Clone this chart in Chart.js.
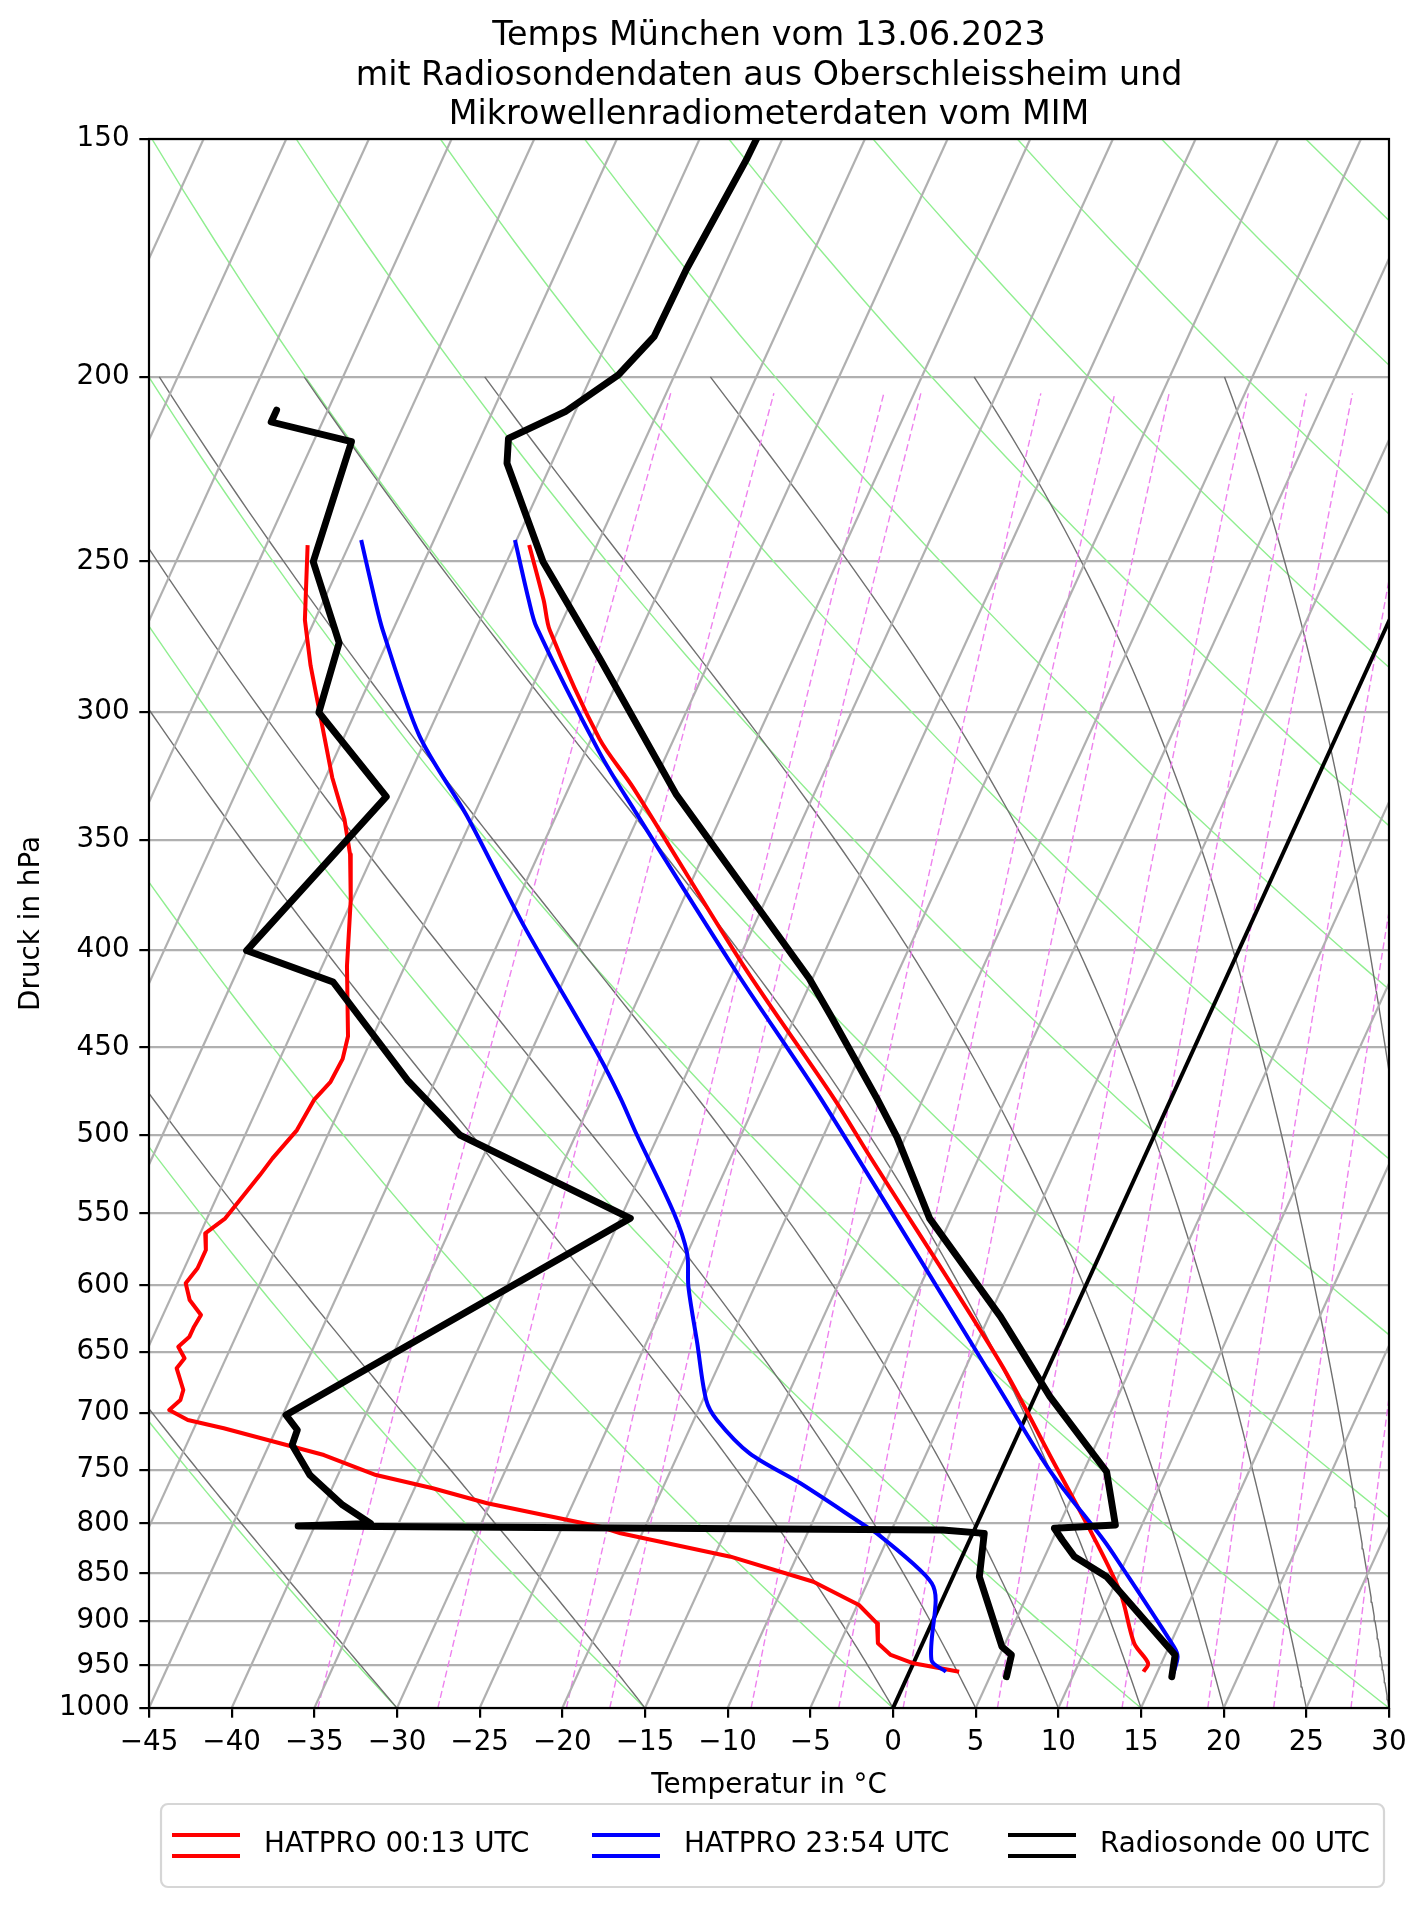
<!DOCTYPE html>
<html lang="de">
<head>
<meta charset="utf-8">
<title>Temps München vom 13.06.2023</title>
<script src="https://cdn.jsdelivr.net/npm/chart.js@4.4.1/dist/chart.umd.min.js"></script>
<style>
  html, body { margin: 0; padding: 0; background: #fff; }
  canvas { display: block; }
</style>
</head>
<body>
<canvas id="skewT" width="1427" height="1907"></canvas>
<script>
// Axis ticks
const pressureTicks = [150, 200, 250, 300, 350, 400, 450, 500, 550, 600, 650, 700, 750, 800, 850, 900, 950, 1000];
const tempTicks = [-45, -40, -35, -30, -25, -20, -15, -10, -5, 0, 5, 10, 15, 20, 25, 30];

// Radiosonde 00 UTC (hPa / °C)
const sondeP = [145, 153.9, 175.7, 190.5, 199.5, 208.6, 215.4, 222.0, 250.1, 281.1, 331.5, 413.9, 432.7, 478.5, 501.6, 553.2, 623.0, 686.3, 751.5, 801.5, 804.7, 816.2, 832.8, 853.2, 937.9, 962.9];
const sondeT = [-51.5, -51.6, -52.2, -52.3, -53.4, -55.6, -58.3, -57.7, -52.8, -46.7, -38.3, -25.2, -22.9, -17.8, -15.5, -11.3, -4.3, 0.9, 6.4, 8.4, 4.8, 5.6, 6.8, 9.3, 15.6, 16.0];
const sondeDewP = [208.2, 211.2, 216.3, 250.1, 275.8, 300.1, 332.2, 400.2, 415.7, 468.0, 500.2, 553.2, 701.7, 714.5, 727.6, 754.5, 782.3, 799.9, 802.5, 806.4, 809.6, 853.2, 928.6, 937.9, 962.9];
const sondeTd = [-73.1, -73.1, -67.7, -66.7, -62.9, -62.2, -55.8, -60.0, -53.9, -46.7, -42.0, -29.4, -44.8, -43.7, -43.6, -41.7, -38.9, -36.7, -41.0, -1.9, 0.7, 1.6, 4.9, 5.7, 6.0];

// HATPRO 00:13 UTC
const hatproEarlyP = [245.1, 262.0, 271.7, 309.8, 328.7, 407.8, 478.5, 513.5, 659.2, 738.0, 811.3, 870.5, 924.7, 947.4, 957.1];
const hatproEarlyT = [-54.1, -51.7, -50.5, -44.5, -41.1, -29.5, -20.4, -16.6, -3.0, 2.6, 7.3, 10.6, 12.8, 14.2, 14.15];
const hatproEarlyDewP = [245.1, 262.0, 268.3, 283.5, 324.6, 341.5, 356.2, 376.4, 407.8, 443.9, 456.2, 469.0, 479.4, 497.2, 514.5, 525.0, 553.2, 563.3, 574.8, 587.6, 598.4, 610.6, 621.8, 630.6, 638.3, 646.1, 655.2, 663.2, 680.8, 689.1, 697.5, 705.9, 713.0, 736.5, 754.5, 766.7, 780.7, 803.2, 809.6, 832.8, 858.4, 882.9, 902.7, 924.7, 937.9, 947.4, 957.1];
const hatproEarlyTd = [-67.5, -66.1, -65.6, -64.0, -59.6, -57.7, -56.4, -55.1, -53.5, -51.5, -51.2, -51.3, -51.8, -52.0, -52.7, -53.0, -53.9, -54.7, -54.2, -54.2, -54.5, -53.8, -52.7, -52.8, -52.8, -53.2, -52.5, -52.7, -51.7, -51.6, -52.0, -50.6, -48.2, -41.4, -37.7, -33.9, -30.2, -22.7, -21.3, -14.0, -8.3, -4.9, -3.3, -2.7, -1.6, 0.0, 3.0];

// HATPRO 23:54 UTC
const hatproLateP = [243.6, 262.0, 270.6, 315.1, 337.2, 411.3, 478.5, 680.8, 750.0, 816.2, 837.9, 928.6, 939.9, 958.9];
const hatproLateT = [-55.1, -52.6, -51.4, -44.1, -40.5, -29.7, -21.2, -2.3, 2.9, 8.1, 9.6, 15.3, 15.8, 16.0];
const hatproLateDewP = [243.6, 262.0, 271.7, 308.5, 340.0, 387.7, 455.3, 478.5, 499.1, 549.8, 577.1, 600.9, 643.5, 689.1, 705.9, 735.0, 762.1, 803.2, 809.6, 839.5, 860.0, 877.6, 943.6, 957.1];
const hatproLateTd = [-64.4, -61.9, -60.6, -55.5, -50.4, -44.0, -35.7, -33.3, -31.4, -26.9, -25.0, -24.0, -21.9, -19.8, -18.6, -15.7, -11.8, -6.6, -5.8, -2.8, -1.1, -0.4, 1.0, 2.2];

// Reference lines of the diagram
const isothermTemps = [-85, -80, -75, -70, -65, -60, -55, -50, -45, -40, -35, -30, -25, -20, -15, -10, -5, 0, 5, 10, 15, 20, 25, 30];
const dryAdiabatTheta = [-45, -30, -15, 0, 15, 30, 45, 60, 75, 90, 105, 120, 135, 150, 165]; // °C at 1000 hPa
const moistAdiabatT0 = [-45, -30, -15, 0, 5, 10, 15, 20, 25, 30, 35];                         // °C at 1000 hPa
const mixingRatios = [0.2, 0.4, 0.8, 1, 2, 3, 4, 6, 8, 10, 14, 18, 24];                        // g/kg

const titleLines = ["Temps München vom 13.06.2023", "mit Radiosondendaten aus Oberschleissheim und", "Mikrowellenradiometerdaten vom MIM"];
const legendEntries = [
  { label: "HATPRO 00:13 UTC", color: "#ff0000" },
  { label: "HATPRO 23:54 UTC", color: "#0000ff" },
  { label: "Radiosonde 00 UTC", color: "#000000" }
];

const FONT = "'DejaVu Sans', sans-serif";
const RD = 287.04749, CP = 1004.6662, LV = 2.50084e6, EPS = 0.6219569, KAPPA = RD / CP;
const P_BOT = 1000, P_TOP = 150, T_MIN = -45, T_MAX = 30;
const SKEW = (T_MAX - T_MIN) * Math.tan(Math.PI / 6);
const LOG_SPAN = Math.log(P_BOT / P_TOP);

function skewX(t, p) {
  return t + SKEW * Math.log(P_BOT / p) / LOG_SPAN;
}

function profile(ps, ts) {
  return ps.map((p, i) => ({ x: skewX(ts[i], p), y: p }));
}

const curveLevels = [];
for (let p = 1000; p >= 150; p -= 10) curveLevels.push(p);

function isotherm(t) {
  return [{ x: skewX(t, P_BOT), y: P_BOT }, { x: skewX(t, P_TOP), y: P_TOP }];
}

function dryAdiabat(theta) {
  const th = theta + 273.15;
  return curveLevels.map(p => ({ x: skewX(th * Math.pow(p / 1000, KAPPA) - 273.15, p), y: p }));
}

function satMixingRatio(p, tK) {
  const es = 6.112 * Math.exp(17.67 * (tK - 273.15) / (tK - 29.65));
  return EPS * es / (p - es);
}

function moistRate(p, tK) {
  const rs = satMixingRatio(p, tK);
  return (RD * tK + LV * rs) / (CP + LV * LV * rs * EPS / (RD * tK * tK)) / p;
}

function moistAdiabat(t0) {
  const pts = [];
  const h = -5;
  let t = t0 + 273.15;
  for (let p = 1000; p >= 200; p += h) {
    pts.push({ x: skewX(t - 273.15, p), y: p });
    const k1 = moistRate(p, t);
    const k2 = moistRate(p + h / 2, t + h * k1 / 2);
    const k3 = moistRate(p + h / 2, t + h * k2 / 2);
    const k4 = moistRate(p + h, t + h * k3);
    t += h * (k1 + 2 * k2 + 2 * k3 + k4) / 6;
  }
  return pts;
}

const mixLevels = [];
for (let p = 1000; p > 205; p -= 10) mixLevels.push(p);
mixLevels.push(204);

function mixingLine(wGkg) {
  const w = wGkg / 1000;
  return mixLevels.map(p => {
    const l = Math.log((w * p / (EPS + w)) / 6.112);
    return { x: skewX(243.5 * l / (17.67 - l), p), y: p };
  });
}

function line(data, color, width, order, extra) {
  return Object.assign({
    data: data,
    showLine: true,
    borderColor: color,
    borderWidth: width,
    pointRadius: 0,
    pointHoverRadius: 0,
    fill: false,
    tension: 0,
    clip: 0,
    order: order,
    borderJoinStyle: "round"
  }, extra || {});
}

const datasets = [];
datasets.push(line(profile(sondeP, sondeT), "#000000", 6.9, 1, { borderCapStyle: "round" }));
datasets.push(line(profile(sondeDewP, sondeTd), "#000000", 6.9, 1, { borderCapStyle: "round" }));
datasets.push(line(profile(hatproLateP, hatproLateT), "#0000ff", 4.0, 2, { tension: 0.3 }));
datasets.push(line(profile(hatproLateDewP, hatproLateTd), "#0000ff", 4.0, 2, { tension: 0.3 }));
datasets.push(line(profile(hatproEarlyP, hatproEarlyT), "#ff0000", 4.0, 3, { tension: 0.3 }));
datasets.push(line(profile(hatproEarlyDewP, hatproEarlyTd), "#ff0000", 4.0, 3));
datasets.push(line(isotherm(0), "#000000", 4.0, 4));
isothermTemps.forEach(t => datasets.push(line(isotherm(t), "#b0b0b0", 2.2, 5)));
mixingRatios.forEach(w => datasets.push(line(mixingLine(w), "#ee82ee", 1.4, 6, { borderDash: [7, 3.5] })));
moistAdiabatT0.forEach(t => datasets.push(line(moistAdiabat(t), "#707070", 1.4, 7)));
dryAdiabatTheta.forEach(t => datasets.push(line(dryAdiabat(t), "#90ee90", 1.4, 8)));

// axes spines on top of the lines
const framePlugin = {
  id: "frame",
  afterDatasetsDraw(chart) {
    const { ctx, chartArea: a } = chart;
    ctx.save();
    ctx.strokeStyle = "#000";
    ctx.lineWidth = 2.2;
    ctx.strokeRect(a.left, a.top, a.right - a.left, a.bottom - a.top);
    ctx.restore();
  }
};

const legendBox = { left: 161, top: 1804, width: 1223, height: 83, midY: 1845.5, handleX: [172, 592, 1008], handleLen: 68, textOffset: 92 };

const legendPlugin = {
  id: "boxLegend",
  afterDraw(chart) {
    const ctx = chart.ctx;
    const L = legendBox, r = 7;
    ctx.save();
    ctx.beginPath();
    ctx.moveTo(L.left + r, L.top);
    ctx.arcTo(L.left + L.width, L.top, L.left + L.width, L.top + L.height, r);
    ctx.arcTo(L.left + L.width, L.top + L.height, L.left, L.top + L.height, r);
    ctx.arcTo(L.left, L.top + L.height, L.left, L.top, r);
    ctx.arcTo(L.left, L.top, L.left + L.width, L.top, r);
    ctx.closePath();
    ctx.fillStyle = "rgba(255,255,255,0.8)";
    ctx.fill();
    ctx.strokeStyle = "#d6d6d6";
    ctx.lineWidth = 2.2;
    ctx.stroke();

    ctx.font = "27.78px " + FONT;
    ctx.textBaseline = "middle";
    ctx.textAlign = "left";
    legendEntries.forEach((e, i) => {
      const x0 = L.handleX[i];
      ctx.strokeStyle = e.color;
      ctx.lineWidth = 4.2;
      [L.midY - 10.5, L.midY + 10.5].forEach(y => {
        ctx.beginPath();
        ctx.moveTo(x0, y);
        ctx.lineTo(x0 + L.handleLen, y);
        ctx.stroke();
      });
      ctx.fillStyle = "#000";
      ctx.fillText(e.label, x0 + L.textOffset, L.midY - 1);
    });
    ctx.restore();
  }
};

Chart.defaults.font.family = FONT;
Chart.defaults.color = "#000";

const tickFont = { family: FONT, size: 27.78 };

new Chart(document.getElementById("skewT"), {
  type: "scatter",
  data: { datasets: datasets },
  options: {
    responsive: false,
    animation: false,
    devicePixelRatio: 1,
    events: [],
    layout: { padding: { left: 0, right: 38, top: 0, bottom: 103 } },
    plugins: {
      legend: { display: false },
      tooltip: { enabled: false },
      title: {
        display: true,
        fullSize: false,
        text: titleLines,
        color: "#000",
        font: { family: FONT, size: 33.33, weight: "normal", lineHeight: 1.18 },
        padding: { top: 17, bottom: 4 }
      }
    },
    scales: {
      x: {
        type: "linear",
        min: T_MIN,
        max: T_MAX,
        afterBuildTicks: s => { s.ticks = tempTicks.map(v => ({ value: v })); },
        afterFit: s => { s.height = 96; },
        ticks: {
          autoSkip: false,
          maxRotation: 0,
          padding: 8.5,
          font: tickFont,
          color: "#000",
          callback: v => (v < 0 ? "\u2212" + Math.abs(v) : String(v))
        },
        grid: { drawOnChartArea: false, drawTicks: true, tickLength: 9.7, tickColor: "#000", tickWidth: 2.2, color: "#000", lineWidth: 2.2 },
        border: { display: false },
        title: { display: true, text: "Temperatur in °C", color: "#000", font: { family: FONT, size: 27.78 }, padding: { top: 0, bottom: 2 } }
      },
      y: {
        type: "logarithmic",
        reverse: true,
        min: P_TOP,
        max: P_BOT,
        afterBuildTicks: s => { s.ticks = pressureTicks.map(v => ({ value: v })); },
        afterFit: s => { s.width = 149; },
        ticks: {
          autoSkip: false,
          padding: 9.7,
          font: tickFont,
          color: "#000",
          callback: v => String(v)
        },
        grid: { color: "#b0b0b0", lineWidth: 2.2, drawTicks: true, tickLength: 9.7, tickColor: "#000", tickWidth: 2.2 },
        border: { display: false },
        title: { display: true, text: "Druck in hPa", color: "#000", font: { family: FONT, size: 27.78 }, padding: { top: 14.8, bottom: 0 } }
      }
    }
  },
  plugins: [framePlugin, legendPlugin]
});
</script>
</body>
</html>
